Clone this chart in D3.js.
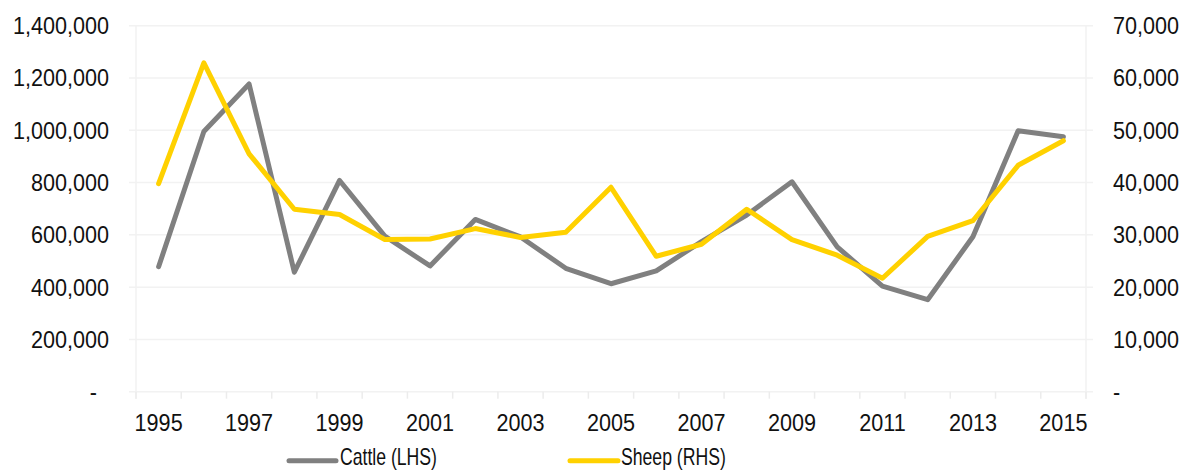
<!DOCTYPE html>
<html>
<head>
<meta charset="utf-8">
<script src="https://cdn.jsdelivr.net/npm/d3@7"></script>
<style>
  html, body { margin: 0; padding: 0; background: #ffffff; }
  svg { display: block; }
  text { font-family: "Liberation Sans", Arial, sans-serif; fill: #111111; }
</style>
</head>
<body>
<svg id="chart" width="1183" height="470"></svg>
<script>
// Annual numbers of cattle (left axis) and sheep (right axis)
const years = [1995, 1996, 1997, 1998, 1999, 2000, 2001, 2002, 2003, 2004, 2005,
               2006, 2007, 2008, 2009, 2010, 2011, 2012, 2013, 2014, 2015];
const cattle = [478000, 995000, 1177000, 457000, 808000, 595000, 481000, 659000, 592000, 472000, 413000,
                462000, 574000, 676000, 803000, 554000, 404000, 352000, 593000, 998000, 975000];
const sheep = [39800, 62900, 45500, 34900, 33900, 29100, 29200, 31200, 29500, 30500, 39100,
               25900, 28200, 34900, 29100, 26100, 21700, 29700, 32700, 43300, 48000];
const leftTicks = [0, 200000, 400000, 600000, 800000, 1000000, 1200000, 1400000];
const rightTicks = [0, 10000, 20000, 30000, 40000, 50000, 60000, 70000];
const yearLabels = [1995, 1997, 1999, 2001, 2003, 2005, 2007, 2009, 2011, 2013, 2015];
const seriesNames = ["Cattle (LHS)", "Sheep (RHS)"];
const seriesColors = ["#808080", "#FFD100"];

const svg = d3.select("#chart");
const plot = { left: 136, right: 1086, top: 25.7, bottom: 391.7 };
const fontSize = 23.5;
const squeeze = 0.92;

const x = d3.scaleBand().domain(years).range([plot.left, plot.right]).paddingInner(0).paddingOuter(0);
const yL = d3.scaleLinear().domain([0, 1400000]).range([plot.bottom, plot.top]);
const yR = d3.scaleLinear().domain([0, 70000]).range([plot.bottom, plot.top]);
const cx = d => x(d) + x.bandwidth() / 2;

const fmt = v => v === 0 ? "-" : d3.format(",")(v);

// Horizontal gridlines with short ticks past both vertical axes
svg.append("g")
  .selectAll("line")
  .data(leftTicks)
  .join("line")
  .attr("x1", plot.left - 7).attr("x2", plot.right + 7)
  .attr("y1", d => yL(d)).attr("y2", d => yL(d))
  .attr("stroke", "#f2f2f2").attr("stroke-width", 1.5);

// Vertical axis lines
[plot.left, plot.right].forEach(px => {
  svg.append("line")
    .attr("x1", px).attr("x2", px)
    .attr("y1", plot.top).attr("y2", plot.bottom + 7)
    .attr("stroke", "#f2f2f2").attr("stroke-width", 1.5);
});

// Category boundary ticks under the baseline
const bounds = years.map(d => x(d)).concat([plot.right]);
svg.append("g")
  .selectAll("line")
  .data(bounds)
  .join("line")
  .attr("x1", d => d).attr("x2", d => d)
  .attr("y1", plot.bottom).attr("y2", plot.bottom + 7)
  .attr("stroke", "#ececec").attr("stroke-width", 1.5);

function label(parent, px, py, txt, anchor, size, sx) {
  return parent.append("text")
    .attr("transform", `translate(${px},${py}) scale(${sx},1)`)
    .attr("text-anchor", anchor)
    .style("font-size", size + "px")
    .text(txt);
}

// Left axis labels
const gl = svg.append("g");
leftTicks.forEach(v => {
  label(gl, v === 0 ? 97 : 109, yL(v) + 8.5, fmt(v), "end", fontSize, squeeze);
});

// Right axis labels
const gr = svg.append("g");
rightTicks.forEach(v => {
  label(gr, 1113, yR(v) + 8.5, fmt(v), "start", fontSize, squeeze);
});

// Year labels
const gx = svg.append("g");
yearLabels.forEach(yr => {
  label(gx, cx(yr), 430.5, String(yr), "middle", fontSize, squeeze);
});

// Series lines
const lineL = d3.line().x((d, i) => cx(years[i])).y(d => yL(d));
const lineR = d3.line().x((d, i) => cx(years[i])).y(d => yR(d));

svg.append("path")
  .datum(cattle)
  .attr("d", lineL)
  .attr("fill", "none")
  .attr("stroke", seriesColors[0])
  .attr("stroke-width", 5)
  .attr("stroke-linejoin", "round")
  .attr("stroke-linecap", "round");

svg.append("path")
  .datum(sheep)
  .attr("d", lineR)
  .attr("fill", "none")
  .attr("stroke", seriesColors[1])
  .attr("stroke-width", 5)
  .attr("stroke-linejoin", "round")
  .attr("stroke-linecap", "round");

// Legend (condensed text)
const legend = svg.append("g");
const legendItems = [
  { x1: 289, x2: 336, tx: 340 },
  { x1: 570, x2: 618, tx: 621 }
];
legendItems.forEach((it, i) => {
  legend.append("line")
    .attr("x1", it.x1).attr("x2", it.x2)
    .attr("y1", 460.7).attr("y2", 460.7)
    .attr("stroke", seriesColors[i])
    .attr("stroke-width", 5)
    .attr("stroke-linecap", "round");
  label(legend, it.tx, 465, seriesNames[i], "start", 24, 0.735);
});
</script>
</body>
</html>
